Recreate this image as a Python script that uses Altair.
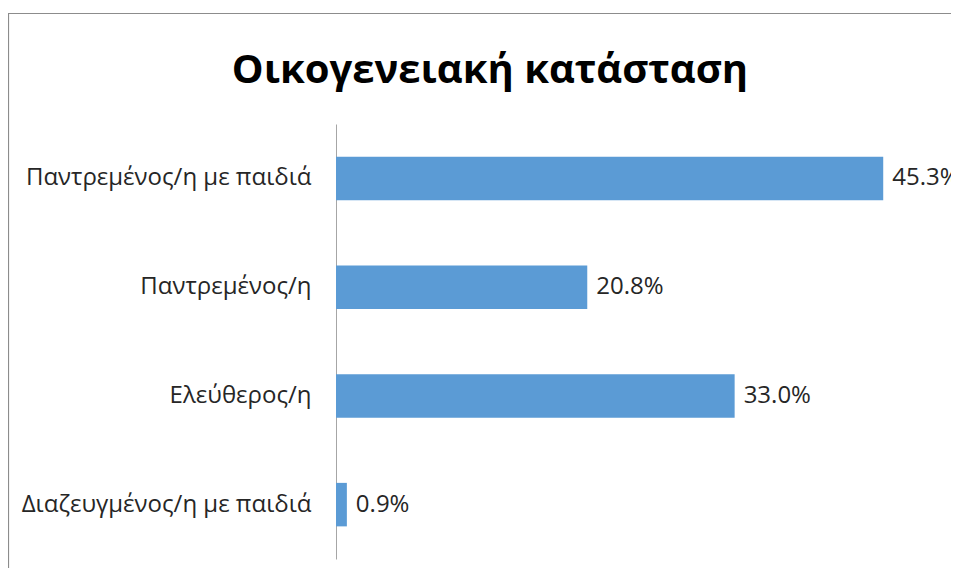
import altair as alt
import pandas as pd

categories = ["Παντρεμένος/η με παιδιά", "Παντρεμένος/η", "Ελεύθερος/η", "Διαζευγμένος/η με παιδιά"]
values = [45.3, 20.8, 33.0, 0.9]
title_text = ["Οικογενειακή κατάσταση"]

df = pd.DataFrame({"cat": categories, "val": values})

W = 604
H = 435
FONT = "Open Sans"

base = alt.Chart(df)

bars = base.mark_bar(color="#5B9BD5").encode(
    y=alt.Y("cat:N", sort=categories, title=None,
            scale=alt.Scale(paddingInner=0.6, paddingOuter=0.3),
            axis=alt.Axis(ticks=False, labelFontSize=24, labelFont=FONT, labelColor="#262626",
                          labelPadding=25, domainColor="#a6a6a6", labelLimit=400)),
    x=alt.X("val:Q", scale=alt.Scale(domain=[0, 50], nice=False), axis=None),
)

labels = base.transform_calculate(
    lab="format(datum.val, '.1f') + '%'"
).mark_text(align="left", baseline="middle", dx=9, fontSize=24, font=FONT, color="#262626").encode(
    y=alt.Y("cat:N", sort=categories),
    x=alt.X("val:Q"),
    text="lab:N",
)

frame = alt.Chart(pd.DataFrame({"k": [0]})).mark_rect(
    fill=None, stroke="#8c8c8c", strokeWidth=1.2
).encode(
    x=alt.value(-327.5), x2=alt.value(W + 200), y=alt.value(-110.5), y2=alt.value(H + 200)
)

title = alt.Chart(pd.DataFrame({"t": title_text})).mark_text(
    font=FONT, fontSize=40, fontWeight="bold", color="#000000", align="center", baseline="alphabetic"
).encode(
    text="t:N", x=alt.value(154), y=alt.value(-41)
)

chart = alt.layer(frame, bars, labels, title).properties(
    width=W, height=H,
    autosize=alt.AutoSizeParams(type="none"),
    padding={"left": 328, "top": 116, "right": 11, "bottom": 9},
).configure_view(stroke=None)

chart.save("out.html", embed_options={"renderer": "svg", "actions": False})
